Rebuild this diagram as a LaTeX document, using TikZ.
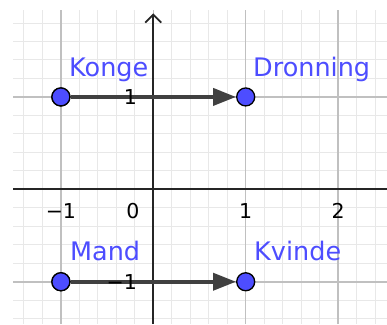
\documentclass[tikz,border=0pt]{standalone}
\usepackage{fontspec}
\setmainfont{DejaVu Sans}
\usetikzlibrary{arrows.meta}
\definecolor{ggblue}{RGB}{77,77,255}
\definecolor{minorgrid}{RGB}{232,232,232}
\definecolor{majorgrid}{RGB}{192,192,192}
\definecolor{axiscol}{RGB}{37,37,37}
\definecolor{veccol}{RGB}{64,64,64}
\tikzset{
  minorline/.style={draw=minorgrid, line width=1bp},
  majorline/.style={draw=majorgrid, line width=1.5bp},
  axisline/.style={draw=axiscol, line width=1.8bp},
  ticklab/.style={inner sep=0pt, text=black, font=\fontsize{20.5bp}{24bp}\selectfont},
  pt/.style={circle, draw=black, line width=1.3bp, fill=ggblue, minimum size=18bp, inner sep=0pt},
  ptlab/.style={anchor=base west, inner sep=0pt, text=ggblue, font=\fontsize{25.5bp}{30bp}\selectfont},
  vec/.style={draw=veccol, line width=3.8bp, -{Triangle[length=23bp,width=17bp]}}
}
\begin{document}
\begin{tikzpicture}[x=92.4bp,y=92.4bp]
\useasboundingbox (-1.659,-1.458) rectangle (2.529,2.049);
\fill[white] (-1.659,-1.458) rectangle (2.529,2.049);
% grid
\draw[minorline] (-1.518,-1.458) grid[step=0.2] (2.529,1.940);
\draw[majorline] (-1.518,-1.458) grid[step=1] (2.529,1.940);
% axes
\draw[axisline] (-1.518,0) -- (2.529,0);
\draw[axisline, -{Straight Barb[length=8bp,width=16bp]}] (0,-1.458) -- (0,1.905);
% points
\node[pt] (konge) at (-1,1) {};
\node[pt] (dronning) at (1,1) {};
\node[pt] (mand) at (-1,-1) {};
\node[pt] (kvinde) at (1,-1) {};
% vectors
\draw[vec] (konge) -- (dronning);
\draw[vec] (mand) -- (kvinde);
\node[pt] at (konge) {};
\node[pt] at (mand) {};
% tick labels
\node[ticklab] (tx1) at (1,-0.232) {1};
\node[ticklab] (tx2) at (2,-0.232) {2};
\node[ticklab] (tx0) at (-0.22,-0.232) {0};
\node[ticklab] (txm1) at (-1,-0.232) {−1};
\node[ticklab, anchor=east] (ty1) at (-0.175,1) {1};
\node[ticklab, anchor=east] (tym1) at (-0.175,-1) {−1};
% labels
\node[ptlab] (lk) at (-0.912,1.226) {Konge};
\node[ptlab] (ld) at (1.079,1.226) {Dronning};
\node[ptlab] (lm) at (-0.902,-0.773) {Mand};
\node[ptlab] (lv) at (1.090,-0.773) {Kvinde};
\end{tikzpicture}
\end{document}
